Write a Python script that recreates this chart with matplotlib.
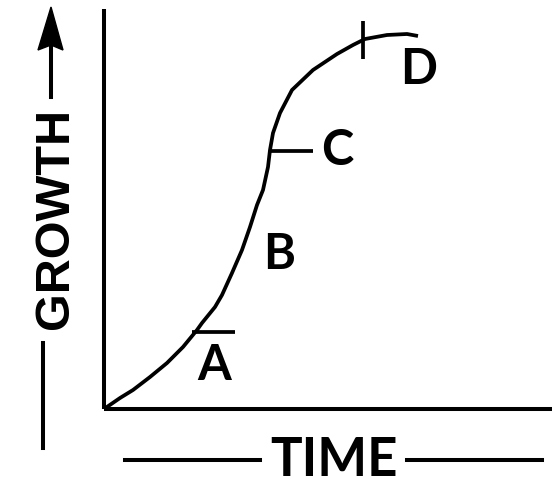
import matplotlib
matplotlib.use("Agg")
import matplotlib.pyplot as plt
from matplotlib.lines import Line2D
from matplotlib.patches import Polygon

# ---- data (time, growth) ----
time = [0, 16, 29, 46, 63, 79, 93, 98, 111, 118, 128, 138, 146, 153, 159, 164,
        166, 169, 176, 188, 209, 233, 249, 261, 283, 303, 314]
growth = [0, 11, 19, 32, 46, 62, 79, 86, 102, 114, 136, 159, 182, 204, 219, 242,
          259, 276, 296, 319, 339, 355, 364, 370, 374, 375, 373]

phase_labels = ["A", "B", "C", "D"]
label_time = [110, 175, 233, 315]
label_growth = [29, 140, 244, 325]

# phase marks: A and C horizontal, D vertical
markA_time = [88, 131]
markA_growth = [77, 77]
markC_time = [166, 209]
markC_growth = [258, 258]
markD_time = [259, 259]
markD_growth = [350, 388]

W, H = 560, 500
fig = plt.figure(figsize=(W / 100, H / 100), dpi=100)
fig.patch.set_facecolor("white")

def fx(x):
    return x / W

def fy(y):
    return 1 - y / H

ax = fig.add_axes([fx(104), fy(409), 448 / W, 400 / H])
ax.set_xlim(0, 448)
ax.set_ylim(0, 400)
for s in ["top", "right"]:
    ax.spines[s].set_visible(False)
for s in ["left", "bottom"]:
    ax.spines[s].set_linewidth(2.9)
    ax.spines[s].set_capstyle("butt")
ax.set_xticks([])
ax.set_yticks([])

lw = 2.7
ax.plot(time, growth, color="black", lw=lw, solid_joinstyle="round",
        solid_capstyle="butt", clip_on=False)
ax.plot(markA_time, markA_growth, color="black", lw=lw, solid_capstyle="butt")
ax.plot(markC_time, markC_growth, color="black", lw=lw, solid_capstyle="butt")
ax.plot(markD_time, markD_growth, color="black", lw=lw, solid_capstyle="butt", clip_on=False)

for lab, x, y in zip(phase_labels, label_time, label_growth):
    ax.text(x, y, lab, ha="center", va="baseline", fontsize=35,
            fontfamily="Lato", fontweight="bold", color="black")

# ---- TIME label with side lines ----
fig.text(fx(334), fy(476), "TIME", ha="center", va="baseline", fontsize=38,
         fontfamily="Lato", fontweight="bold", color="black")
fig.add_artist(Line2D([fx(125), fx(260)], [fy(460), fy(460)], color="black", lw=2.9,
                      transform=fig.transFigure))
fig.add_artist(Line2D([fx(407), fx(542)], [fy(460), fy(460)], color="black", lw=2.9,
                      transform=fig.transFigure))

# ---- GROWTH label with line and arrow ----
fig.text(fx(68), fy(218), "GROWTH", ha="center", va="baseline", rotation=90,
         rotation_mode="anchor", fontsize=35, fontfamily="Liberation Sans",
         fontweight="bold", color="black")
fig.add_artist(Line2D([fx(43), fx(43)], [fy(343), fy(448)], color="black", lw=2.9,
                      transform=fig.transFigure))
fig.add_artist(Line2D([fx(51), fx(51)], [fy(97), fy(45)], color="black", lw=2.9,
                      transform=fig.transFigure))
fig.add_artist(Polygon([(fx(51), fy(7)), (fx(63), fy(50)), (fx(51), fy(45)), (fx(38), fy(50))],
                       closed=True, facecolor="black", edgecolor="black", lw=1,
                       transform=fig.transFigure))

fig.savefig("out.png", dpi=100, facecolor="white")
